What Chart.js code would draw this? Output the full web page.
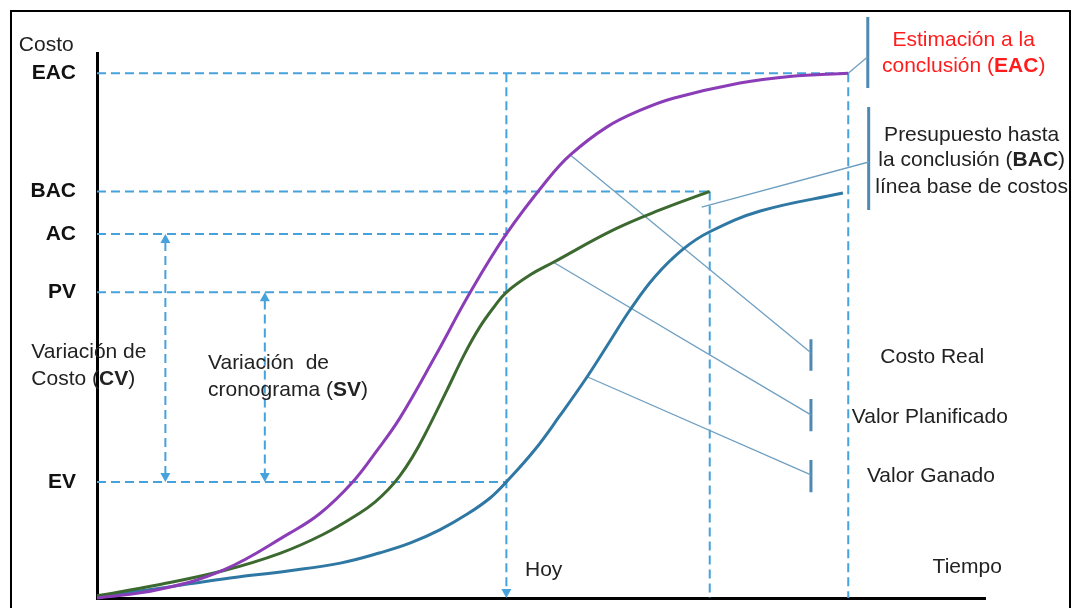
<!DOCTYPE html>
<html>
<head>
<meta charset="utf-8">
<script src="https://cdn.jsdelivr.net/npm/chart.js@4.4.1/dist/chart.umd.min.js"></script>
<style>
  html, body { margin: 0; padding: 0; background: #fff; }
  #contenedor { width: 1072px; height: 608px; }
</style>
</head>
<body>
<div id="contenedor"><canvas id="grafico" width="1072" height="608"></canvas></div>
<script>
// niveles de costo (marcas del eje Y)
const etiquetasCosto = ['EAC', 'BAC', 'AC', 'PV', 'EV'];
const nivelesCosto = [96.3, 74.6, 66.8, 56.1, 21.3];

// momentos en el tiempo
const hoy = 46.1;
const finPlanificado = 69.0;
const finEstimado = 84.6;

// Costo Real (AC)
const tiempoAC = [0, 6.8, 14.2, 21.7, 25.1, 28.8, 31.5, 34.1, 38.1, 42.0, 46.1, 50.7, 53.3, 57.4, 61.2, 64.9, 72.4, 78.0, 84.6];
const valorAC = [0, 1.5, 5.1, 11.9, 15.5, 21.3, 27.0, 33.0, 44.4, 56.0, 66.8, 76.7, 81.3, 86.4, 89.5, 91.7, 94.5, 95.7, 96.3];

// Valor Planificado (PV)
const tiempoPV = [0, 6.8, 14.2, 20.6, 25.5, 29.6, 31.3, 32.8, 34.1, 35.5, 36.9, 39.4, 41.4, 43.1, 44.8, 46.1, 48.8, 51.4, 58.1, 63.4, 69.0];
const valorPV = [0.4, 2.4, 5.0, 8.2, 11.7, 15.6, 17.6, 19.9, 22.4, 25.8, 29.9, 38.1, 44.8, 49.7, 53.6, 56.1, 59.3, 61.6, 67.5, 71.2, 74.6];

// Valor Ganado (EV)
const tiempoEV = [0, 7.1, 14.2, 21.7, 27.4, 31.9, 35.3, 38.6, 41.7, 44.3, 46.1, 49.3, 52.1, 55.2, 57.8, 60.0, 62.8, 66.0, 69.0, 74.7, 84.0];
const valorEV = [0.2, 1.8, 3.5, 5.0, 6.4, 8.3, 10.1, 12.5, 15.4, 18.4, 21.3, 27.2, 33.4, 40.6, 47.2, 52.8, 58.9, 64.0, 67.2, 71.0, 74.3];

// variaciones (flechas dobles)
const tiempoCV = 7.7;
const tiempoSV = 18.9;

// líneas guía de las leyendas: [x1, y1, x2, y2]
const guias = [
  [84.6, 96.3, 86.8, 99.3],
  [68.1, 71.7, 86.9, 80.0],
  [53.3, 81.3, 80.4, 45.0],
  [51.4, 61.6, 80.4, 33.6],
  [55.2, 40.6, 80.4, 22.6]
];
// barras de las leyendas: [x, yInicio, yFin]
const barras = [
  [86.8, 106.6, 93.6],
  [86.9, 90.1, 71.2],
  [80.4, 47.5, 41.7],
  [80.4, 36.5, 30.6],
  [80.4, 25.3, 19.4]
];

const familia = "'Liberation Sans', Arial, sans-serif";
const colorTexto = '#222';
const azulGuion = '#45a2dd';

const puntos = (xs, ys) => xs.map((x, i) => ({x: x, y: ys[i]}));
const nivel = nombre => nivelesCosto[etiquetasCosto.indexOf(nombre)];

const curva = (xs, ys, color) => ({
  data: puntos(xs, ys),
  borderColor: color,
  borderWidth: 3,
  pointRadius: 0,
  tension: 0.4,
  clip: false
});

const guion = (x1, y1, x2, y2) => ({
  data: [{x: x1, y: y1}, {x: x2, y: y2}],
  borderColor: azulGuion,
  borderWidth: 2,
  borderDash: [9, 5],
  pointRadius: 0,
  clip: false
});

const recta = (x1, y1, x2, y2, color, ancho) => ({
  data: [{x: x1, y: y1}, {x: x2, y: y2}],
  borderColor: color,
  borderWidth: ancho,
  pointRadius: 0,
  clip: false
});

const datasets = [
  curva(tiempoAC, valorAC, '#8b3db7'),
  curva(tiempoPV, valorPV, '#3c6930'),
  curva(tiempoEV, valorEV, '#2f78a4')
];
guias.forEach(g => datasets.push(recta(g[0], g[1], g[2], g[3], '#6f9fc0', 1.3)));
barras.forEach(b => datasets.push(recta(b[0], b[1], b[0], b[2], '#4f89b1', 3)));

// líneas discontinuas horizontales
datasets.push(guion(0, nivel('EAC'), finEstimado, nivel('EAC')));
datasets.push(guion(0, nivel('BAC'), finPlanificado, nivel('BAC')));
datasets.push(guion(0, nivel('AC'), hoy, nivel('AC')));
datasets.push(guion(0, nivel('PV'), hoy, nivel('PV')));
datasets.push(guion(0, nivel('EV'), hoy, nivel('EV')));
// líneas discontinuas verticales
datasets.push(guion(hoy, nivel('EAC'), hoy, 1.5));
datasets.push(guion(finPlanificado, nivel('BAC'), finPlanificado, 0));
datasets.push(guion(finEstimado, nivel('EAC'), finEstimado, 0));
datasets.push(guion(tiempoCV, nivel('AC') - 1.5, tiempoCV, nivel('EV') + 1.5));
datasets.push(guion(tiempoSV, nivel('PV') - 1.5, tiempoSV, nivel('EV') + 1.5));

// puntas de flecha: [x, y, dirección]
const flechas = [
  [tiempoCV, nivel('AC'), 'arriba'],
  [tiempoCV, nivel('EV'), 'abajo'],
  [tiempoSV, nivel('PV'), 'arriba'],
  [tiempoSV, nivel('EV'), 'abajo'],
  [hoy, 0, 'abajo']
];

// textos: [partes, x, y, alineación]; parte = [texto, negrita, color]
const textos = [
  [[['Costo', false]], -8.8, 101.5, 'left'],
  [[['Variación de', false]], -7.4, 45.1, 'left'],
  [[['Costo (', false], ['CV', true], [')', false]], -7.4, 40.2, 'left'],
  [[['Variación  de', false]], 12.5, 43.1, 'left'],
  [[['cronograma (', false], ['SV', true], [')', false]], 12.5, 38.2, 'left'],
  [[['Hoy', false]], 48.2, 5.1, 'left'],
  [[['Tiempo', false]], 94.1, 5.7, 'left'],
  [[['Costo Real', false]], 88.2, 44.2, 'left'],
  [[['Valor Planificado', false]], 85.0, 33.2, 'left'],
  [[['Valor Ganado', false]], 86.7, 22.4, 'left'],
  [[['Estimación a la', false, '#ff1c1c']], 97.6, 102.4, 'center'],
  [[['conclusión (', false, '#ff1c1c'], ['EAC', true, '#ff1c1c'], [')', false, '#ff1c1c']], 97.6, 97.6, 'center'],
  [[['Presupuesto hasta', false]], 98.5, 85.0, 'center'],
  [[['la conclusión (', false], ['BAC', true], [')', false]], 98.5, 80.4, 'center'],
  [[['línea base de costos', false]], 98.5, 75.4, 'center']
];

const marco = {
  id: 'marco',
  beforeDraw(chart) {
    const ctx = chart.ctx;
    ctx.save();
    ctx.strokeStyle = '#000';
    ctx.lineWidth = 2;
    ctx.strokeRect(11, 11, 1059, 640);
    ctx.restore();
  }
};

const anotaciones = {
  id: 'anotaciones',
  afterDatasetsDraw(chart) {
    const ctx = chart.ctx;
    const sx = chart.scales.x, sy = chart.scales.y;
    ctx.save();
    ctx.fillStyle = azulGuion;
    flechas.forEach(f => {
      const px = sx.getPixelForValue(f[0]);
      const py = sy.getPixelForValue(f[1]);
      const d = f[2] === 'arriba' ? 1 : -1;
      ctx.beginPath();
      ctx.moveTo(px, py);
      ctx.lineTo(px - 5, py + d * 9);
      ctx.lineTo(px + 5, py + d * 9);
      ctx.closePath();
      ctx.fill();
    });
    ctx.restore();
  },
  afterDraw(chart) {
    const ctx = chart.ctx;
    const sx = chart.scales.x, sy = chart.scales.y;
    ctx.save();
    ctx.textBaseline = 'middle';
    ctx.textAlign = 'left';
    textos.forEach(t => {
      const partes = t[0];
      let total = 0;
      partes.forEach(p => {
        ctx.font = (p[1] ? 'bold ' : '') + '21px ' + familia;
        total += ctx.measureText(p[0]).width;
      });
      let px = sx.getPixelForValue(t[1]);
      const py = sy.getPixelForValue(t[2]);
      if (t[3] === 'center') px -= total / 2;
      partes.forEach(p => {
        ctx.font = (p[1] ? 'bold ' : '') + '21px ' + familia;
        ctx.fillStyle = p[2] || colorTexto;
        ctx.fillText(p[0], px, py);
        px += ctx.measureText(p[0]).width;
      });
    });
    ctx.restore();
  }
};

new Chart(document.getElementById('grafico'), {
  type: 'line',
  data: { datasets: datasets },
  options: {
    responsive: false,
    animation: false,
    events: [],
    layout: { padding: { top: 53, right: 87, bottom: 0, left: 0 } },
    plugins: { legend: { display: false }, tooltip: { enabled: false } },
    scales: {
      x: {
        type: 'linear', min: 0, max: 100,
        grid: { display: false, drawTicks: false },
        border: { color: '#000', width: 3 },
        ticks: { display: false },
        afterFit: s => { s.height = 10; s.paddingLeft = 0; s.paddingRight = 0; }
      },
      y: {
        type: 'linear', min: 0, max: 100,
        grid: { display: false, drawTicks: false },
        border: { color: '#000', width: 3 },
        afterBuildTicks: s => { s.ticks = nivelesCosto.map(v => ({ value: v })); },
        afterFit: s => { s.width = 97; s.paddingTop = 0; s.paddingBottom = 0; },
        ticks: {
          padding: 21,
          color: '#111',
          font: { family: familia, size: 21, weight: 'bold' },
          callback: v => etiquetasCosto[nivelesCosto.indexOf(v)]
        }
      }
    }
  },
  plugins: [marco, anotaciones]
});
</script>
</body>
</html>
